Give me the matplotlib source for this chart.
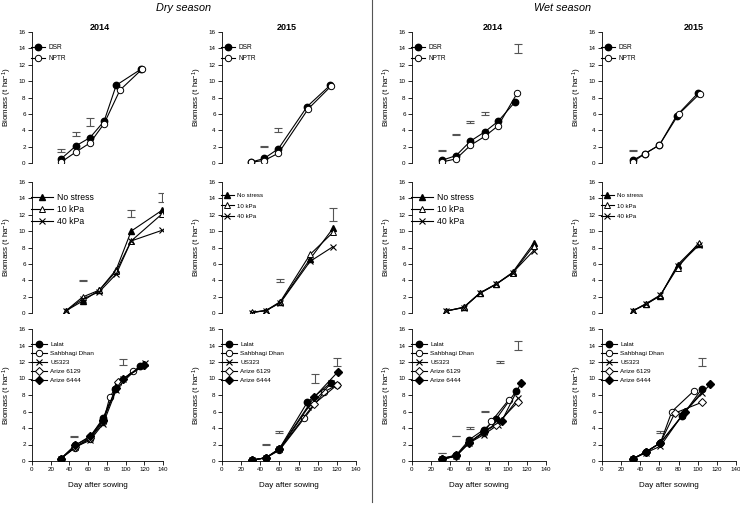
import matplotlib
matplotlib.use("Agg")
import matplotlib.pyplot as plt
from matplotlib.lines import Line2D

plt.rcParams['font.family'] = ['Liberation Sans', 'DejaVu Sans']
plt.rcParams['mathtext.default'] = 'regular'

# ---- row 1: establishment method (DSR vs NPTR) ----
dry14_dsr_days = [31, 47, 62, 77, 90, 117]
dry14_dsr = [0.5, 2.1, 3.1, 5.1, 9.5, 11.5]
dry14_nptr_days = [31, 47, 62, 77, 94, 118]
dry14_nptr = [0.1, 1.35, 2.45, 4.8, 8.9, 11.5]
dry14_lsd_days = [31, 47, 62]
dry14_lsd = [1.5, 3.5, 5.0]
dry14_lsd_half = [0.16, 0.24, 0.45]

dry15_dsr_days = [30, 44, 59, 89, 113]
dry15_dsr = [0.1, 0.55, 1.75, 6.9, 9.5]
dry15_nptr_days = [30, 44, 59, 90, 114]
dry15_nptr = [0.1, 0.3, 1.2, 6.6, 9.4]
dry15_lsd_days = [44, 59]
dry15_lsd = [2.0, 4.05]
dry15_lsd_half = [0.05, 0.22]

wet14_dsr_days = [31, 46, 61, 76, 90, 108]
wet14_dsr = [0.32, 0.9, 2.67, 3.8, 5.1, 7.5]
wet14_nptr_days = [31, 46, 61, 76, 90, 110]
wet14_nptr = [0.12, 0.5, 2.15, 3.25, 4.55, 8.55]
wet14_lsd_days = [31, 46, 61, 76, 111]
wet14_lsd = [1.5, 3.5, 5.0, 6.0, 14.0]
wet14_lsd_half = [0.07, 0.1, 0.15, 0.18, 0.55]

wet15_dsr_days = [32, 45, 60, 78, 100]
wet15_dsr = [0.32, 1.15, 2.2, 5.8, 8.5]
wet15_nptr_days = [32, 45, 60, 80, 102]
wet15_nptr = [0.12, 1.15, 2.2, 5.95, 8.45]
wet15_lsd_days = [32]
wet15_lsd = [1.5]
wet15_lsd_half = [0.05]

# ---- row 2: water regime ----
dry14_w_days = [36, 54, 72, 90, 106, 139]
dry14_nostress = [0.25, 1.45, 2.8, 5.3, 10.0, 12.55]
dry14_10kpa = [0.25, 1.95, 2.8, 5.1, 8.8, 12.1]
dry14_40kpa = [0.25, 1.7, 2.6, 4.75, 8.8, 10.1]
dry14_w_lsd_days = [54, 106, 139]
dry14_w_lsd = [4.0, 12.15, 14.1]
dry14_w_lsd_half = [0.05, 0.47, 0.57]

dry15_w_days = [31, 46, 61, 92, 116]
dry15_nostress = [0.05, 0.3, 1.3, 6.6, 10.35]
dry15_10kpa = [0.1, 0.3, 1.4, 7.15, 9.85]
dry15_40kpa = [0.05, 0.3, 1.25, 6.3, 8.1]
dry15_w_lsd_days = [61, 116]
dry15_w_lsd = [4.0, 12.0]
dry15_w_lsd_half = [0.2, 0.82]

wet14_w_days = [36, 54, 71, 88, 105, 127]
wet14_nostress = [0.25, 0.7, 2.45, 3.55, 4.95, 8.5]
wet14_10kpa = [0.25, 0.7, 2.45, 3.55, 4.85, 8.2]
wet14_40kpa = [0.25, 0.65, 2.4, 3.5, 4.9, 7.6]

wet15_w_days = [32, 46, 61, 79, 101]
wet15_nostress = [0.25, 1.1, 2.1, 5.9, 8.45]
wet15_10kpa = [0.25, 1.15, 2.2, 5.55, 8.55]
wet15_40kpa = [0.25, 1.05, 2.15, 5.75, 8.25]

# ---- row 3: varieties ----
varieties = ['Lalat', 'Sahbhagi Dhan', 'US323', 'Arize 6129', 'Arize 6444']

dry14_var_days = [
    [31, 46, 62, 76, 89, 115],
    [31, 46, 62, 76, 83, 92, 108],
    [31, 46, 62, 76, 90, 97, 121],
    [31, 46, 62, 76, 92, 120],
    [31, 46, 62, 76, 90, 97, 120],
]
dry14_var = [
    [0.3, 1.9, 2.9, 5.2, 8.7, 11.5],
    [0.3, 1.6, 2.7, 4.7, 7.7, 9.4, 10.9],
    [0.3, 1.7, 2.5, 4.5, 8.6, 9.9, 11.9],
    [0.3, 1.7, 2.8, 4.9, 9.6, 11.6],
    [0.3, 1.9, 3.0, 5.0, 8.8, 9.9, 11.6],
]
dry14_var_lsd_days = [45, 97]
dry14_var_lsd = [2.95, 12.0]
dry14_var_lsd_half = [0.1, 0.4]

dry15_var_days = [
    [31, 46, 60, 89, 114],
    [31, 46, 60, 86, 107, 120],
    [31, 46, 60, 90, 114],
    [31, 46, 60, 96, 120],
    [31, 46, 60, 96, 121],
]
dry15_var = [
    [0.1, 0.4, 1.5, 7.1, 9.5],
    [0.1, 0.4, 1.3, 5.2, 8.4, 9.2],
    [0.1, 0.4, 1.4, 6.5, 9.4],
    [0.1, 0.4, 1.4, 6.9, 9.2],
    [0.1, 0.4, 1.5, 7.7, 10.8],
]
dry15_var_lsd_days = [46, 60, 97, 120]
dry15_var_lsd = [2.0, 3.5, 10.0, 12.0]
dry15_var_lsd_half = [0.03, 0.08, 0.6, 0.45]

wet14_var_days = [
    [31, 46, 60, 75, 88, 109],
    [31, 46, 60, 75, 83, 101],
    [31, 46, 60, 75, 90, 111],
    [31, 46, 60, 75, 88, 111],
    [31, 46, 60, 75, 94, 114],
]
wet14_var = [
    [0.3, 0.7, 2.6, 3.8, 5.1, 8.5],
    [0.2, 0.6, 2.3, 3.4, 4.8, 7.4],
    [0.2, 0.6, 2.2, 3.2, 4.4, 7.6],
    [0.2, 0.6, 2.3, 3.5, 4.4, 7.2],
    [0.3, 0.7, 2.2, 3.6, 4.9, 9.5],
]
wet14_var_lsd_days = [31, 46, 61, 76, 92, 111]
wet14_var_lsd = [1.0, 3.0, 4.0, 6.0, 12.0, 14.0]
wet14_var_lsd_half = [0.03, 0.03, 0.08, 0.1, 0.1, 0.5]

wet15_var_days = [
    [32, 46, 61, 84, 104],
    [32, 46, 61, 73, 96],
    [32, 46, 61, 84, 104],
    [32, 46, 61, 76, 104],
    [32, 46, 61, 87, 113],
]
wet15_var = [
    [0.25, 1.1, 2.2, 5.5, 8.7],
    [0.25, 1.1, 2.2, 6.0, 8.5],
    [0.25, 1.0, 1.8, 5.6, 8.3],
    [0.25, 1.1, 2.2, 5.8, 7.1],
    [0.25, 1.1, 2.2, 6.0, 9.3],
]
wet15_var_lsd_days = [61, 104]
wet15_var_lsd = [3.5, 12.0]
wet15_var_lsd_half = [0.1, 0.5]

years = ['2014', '2015', '2014', '2015']
title_x = [100, 287, 493, 694]

W, H = 740, 508
col_x = [(32, 163), (222, 356), (412, 546), (602, 736)]
row_y = [(32, 163), (182, 313), (329, 461)]

fig = plt.figure(figsize=(W / 100, H / 100), dpi=100)


def make_ax(r, c):
    x0, x1 = col_x[c]
    y16, y0 = row_y[r]
    ax = fig.add_axes([x0 / W, 1 - y0 / H, (x1 - x0) / W, (y0 - y16) / H])
    ax.set_xlim(0, 140)
    ax.set_ylim(0, 16)
    ax.set_yticks(range(0, 17, 2))
    ax.spines['top'].set_visible(False)
    ax.spines['right'].set_visible(False)
    for s in ax.spines.values():
        s.set_linewidth(0.6)
    ax.tick_params(labelsize=4.5, width=0.6, length=3, pad=1.5)
    if r < 2:
        ax.spines['bottom'].set_visible(False)
        ax.set_xticks([])
    else:
        ax.set_xticks(range(0, 141, 20))
        ax.set_xlabel('Day after sowing', fontsize=5.8, labelpad=7)
    ax.set_ylabel('Biomass (t ha$^{-1}$)', fontsize=5.8, va='center')
    ax.yaxis.set_label_coords(-25 / (x1 - x0), 0.5)
    ax.patch.set_visible(False)
    return ax


def lsd(ax, days, vals, half):
    ax.errorbar(days, vals, yerr=half, fmt='none', ecolor='#555555',
                elinewidth=0.8, capsize=3, capthick=0.8, zorder=1)


ms = 4.6
st_filled = dict(color='black', mfc='black', mec='black', lw=0.8, ms=ms)
st_open = dict(color='black', mfc='white', mec='black', lw=0.8, ms=ms, mew=0.7)

# row 1
row1 = [
    (dry14_dsr_days, dry14_dsr, dry14_nptr_days, dry14_nptr, dry14_lsd_days, dry14_lsd, dry14_lsd_half),
    (dry15_dsr_days, dry15_dsr, dry15_nptr_days, dry15_nptr, dry15_lsd_days, dry15_lsd, dry15_lsd_half),
    (wet14_dsr_days, wet14_dsr, wet14_nptr_days, wet14_nptr, wet14_lsd_days, wet14_lsd, wet14_lsd_half),
    (wet15_dsr_days, wet15_dsr, wet15_nptr_days, wet15_nptr, wet15_lsd_days, wet15_lsd, wet15_lsd_half),
]
for c, (d1, v1, d2, v2, ld, lv, lh) in enumerate(row1):
    ax = make_ax(0, c)
    lsd(ax, ld, lv, lh)
    ax.plot(d1, v1, marker='o', label='DSR', **st_filled)
    ax.plot(d2, v2, marker='o', label='NPTR', **st_open)
    ax.legend(loc='upper left', bbox_to_anchor=(-0.01, 0.905), frameon=False,
              fontsize=4.7, handlelength=2.2, handletextpad=0.5,
              labelspacing=0.55, borderaxespad=0, borderpad=0)
    fig.text(title_x[c] / W, 1 - 28 / H, years[c], fontsize=6.5,
             fontweight='bold', ha='center', va='center')

# row 2
row2 = [
    (dry14_w_days, dry14_nostress, dry14_10kpa, dry14_40kpa, dry14_w_lsd_days, dry14_w_lsd, dry14_w_lsd_half),
    (dry15_w_days, dry15_nostress, dry15_10kpa, dry15_40kpa, dry15_w_lsd_days, dry15_w_lsd, dry15_w_lsd_half),
    (wet14_w_days, wet14_nostress, wet14_10kpa, wet14_40kpa, [], [], []),
    (wet15_w_days, wet15_nostress, wet15_10kpa, wet15_40kpa, [], [], []),
]
for c, (d, ns, k10, k40, ld, lv, lh) in enumerate(row2):
    ax = make_ax(1, c)
    if ld:
        lsd(ax, ld, lv, lh)
    ax.plot(d, ns, marker='^', label='No stress', **st_filled)
    ax.plot(d, k10, marker='^', label='10 kPa', **st_open)
    ax.plot(d, k40, marker='x', label='40 kPa', color='black', mec='black',
            lw=0.8, ms=ms, mew=0.8)
    big = c in (0, 2)
    ax.legend(loc='upper left', bbox_to_anchor=(-0.01, 0.915), frameon=False,
              fontsize=6.2 if big else 4.4, handlelength=2.6 if big else 2.2,
              handletextpad=0.5, labelspacing=0.35 if big else 0.8,
              borderaxespad=0, borderpad=0)

# row 3
var_styles = [
    dict(marker='o', **st_filled),
    dict(marker='o', **st_open),
    dict(marker='x', color='black', mec='black', lw=0.8, ms=ms, mew=0.8),
    dict(marker='D', color='black', mfc='white', mec='black', lw=0.8, ms=ms * 0.85, mew=0.7),
    dict(marker='D', color='black', mfc='black', mec='black', lw=0.8, ms=ms * 0.85),
]
row3 = [
    (dry14_var_days, dry14_var, dry14_var_lsd_days, dry14_var_lsd, dry14_var_lsd_half),
    (dry15_var_days, dry15_var, dry15_var_lsd_days, dry15_var_lsd, dry15_var_lsd_half),
    (wet14_var_days, wet14_var, wet14_var_lsd_days, wet14_var_lsd, wet14_var_lsd_half),
    (wet15_var_days, wet15_var, wet15_var_lsd_days, wet15_var_lsd, wet15_var_lsd_half),
]
for c, (dd, vv, ld, lv, lh) in enumerate(row3):
    ax = make_ax(2, c)
    lsd(ax, ld, lv, lh)
    for name, d, v, st in zip(varieties, dd, vv, var_styles):
        ax.plot(d, v, label=name, **st)
    ax.legend(loc='upper left', bbox_to_anchor=(-0.01, 0.905), frameon=False,
              fontsize=4.6, handlelength=2.6, handletextpad=0.5,
              labelspacing=0.55, borderaxespad=0, borderpad=0)

fig.text(183 / W, 1 - 8 / H, 'Dry season', fontsize=7.8, style='italic',
         ha='center', va='center')
fig.text(563 / W, 1 - 8 / H, 'Wet season', fontsize=7.8, style='italic',
         ha='center', va='center')
fig.add_artist(Line2D([372 / W, 372 / W], [1.0, 1 - 502 / H],
                      color='#555555', lw=0.8))

fig.savefig('out.png', dpi=100)
